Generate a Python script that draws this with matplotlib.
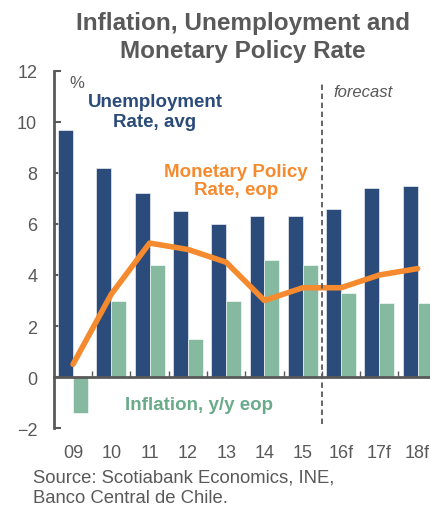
import matplotlib.pyplot as plt
import numpy as np

plt.rcParams['font.family'] = ['Liberation Sans', 'DejaVu Sans']

# data
years = ['09', '10', '11', '12', '13', '14', '15', '16f', '17f', '18f']
unemployment = [9.7, 8.2, 7.2, 6.5, 6.0, 6.3, 6.3, 6.6, 7.4, 7.5]
inflation = [-1.4, 3.0, 4.4, 1.5, 3.0, 4.6, 4.4, 3.3, 2.9, 2.9]
policy_rate = [0.5, 3.25, 5.25, 5.0, 4.5, 3.0, 3.5, 3.5, 4.0, 4.25]

blue = '#2b4b7a'
green = '#85b9a0'
orange = '#f58a2e'
gray = '#595959'

fig = plt.figure(figsize=(4.31, 5.06), dpi=100)
ax = fig.add_axes([0.125, 0.152, 0.875, 0.706])

x = np.arange(len(years))
w = 0.39
ax.bar(x - w / 2, unemployment, w, color=blue, edgecolor='white', linewidth=0.4, zorder=2)
ax.bar(x + w / 2, inflation, w, color=green, edgecolor='white', linewidth=0.4, zorder=2)
ax.plot(x, policy_rate, color=orange, lw=4, solid_capstyle='round', zorder=3)

ax.set_xlim(-0.5, 9.35)
ax.set_ylim(-2, 12)
ax.set_yticks(range(-2, 13, 2))

for s in ['top', 'right']:
    ax.spines[s].set_visible(False)
ax.spines['left'].set_color(gray)
ax.spines['left'].set_linewidth(2)
ax.spines['bottom'].set_position(('data', 0))
ax.spines['bottom'].set_color(gray)
ax.spines['bottom'].set_linewidth(2)
ax.spines['bottom'].set_zorder(4)

ax.tick_params(axis='y', direction='in', length=5, width=1.5, color=gray,
               labelcolor=gray, labelsize=13, pad=12)
ax.set_xticks(x[:-1] + 0.5)
ax.set_xticklabels([])
ax.tick_params(axis='x', direction='in', length=4, width=1, color=gray)

# category labels below the plot
for i, yr in enumerate(years):
    ax.text(i, -0.045, yr, transform=ax.get_xaxis_transform(), ha='center', va='top',
            fontsize=13, color=gray)

# forecast divider
ax.plot([6.5, 6.5], [-1.85, 11.55], ls=(0, (3, 2)), color=gray, lw=1.3, zorder=4)
ax.text(6.8, 11.2, 'forecast', style='italic', fontsize=12, color=gray, va='center')
ax.text(-0.1, 11.55, '%', fontsize=12, color=gray, va='center')

ax.text(2.14, 10.4, 'Unemployment\nRate, avg', color=blue, fontsize=13.5,
        fontweight='bold', ha='center', va='center', linespacing=1.2)
ax.text(4.26, 7.7, 'Monetary Policy\nRate, eop', color=orange, fontsize=13.5,
        fontweight='bold', ha='center', va='center', linespacing=1.1)
ax.text(3.3, -1.06, 'Inflation, y/y eop', color='#6aab8a', fontsize=13.5,
        fontweight='bold', ha='center', va='center')

fig.text(0.564, 0.926, 'Inflation, Unemployment and\nMonetary Policy Rate',
         ha='center', va='center', fontsize=17.5, fontweight='bold', color=gray,
         linespacing=1.25)
fig.text(0.077, 0.035, 'Source: Scotiabank Economics, INE,\nBanco Central de Chile.',
         ha='left', va='center', fontsize=13.3, color=gray, linespacing=1.3)

fig.savefig('out.png', dpi=100)
